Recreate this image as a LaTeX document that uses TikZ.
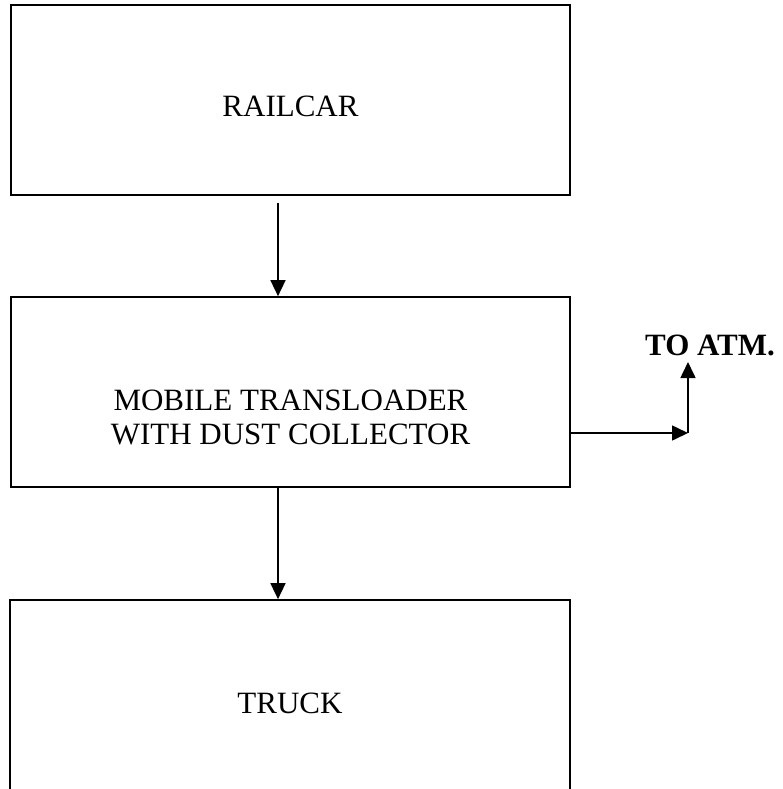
\documentclass[tikz,border=0pt]{standalone}
\usepackage{fontspec}
\setmainfont{Liberation Serif}
\usetikzlibrary{arrows.meta}
\begin{document}
\begin{tikzpicture}[x=1pt,y=-1pt,
  box/.style={draw=black,line width=1.7pt,minimum width=559pt,inner sep=0pt},
  txt/.style={font=\fontsize{31}{34}\selectfont,align=center,inner sep=0pt},
  arr/.style={line width=1.6pt,-{Triangle[length=16pt,width=15pt]}}]
\useasboundingbox (0,0) rectangle (783,789);
\node[box,minimum height=190pt] (rail) at (290.5,100) {};
\node[txt] (railt) at (290.5,106) {RAILCAR};
\node[box,minimum height=190pt] (mid) at (290.5,392) {};
\node[txt] (midt) at (290.5,417) {MOBILE TRANSLOADER\\WITH DUST COLLECTOR};
\node[box,minimum height=206pt,minimum width=560pt] (truck) at (290,703) {};
\node[txt] (truckt) at (290,703) {TRUCK};
\draw[arr] ([xshift=-12.5pt,yshift=-7pt]rail.south) -- ([xshift=-12.5pt]mid.north);
\draw[arr] ([xshift=-12.5pt]mid.south) -- ([xshift=-12pt]truck.north);
\coordinate (corner) at (688,433);
\coordinate (up) at (688,362);
\draw[arr] (mid.east |- corner) -- (corner);
\draw[arr] (corner) -- (up);
\node[txt,font=\fontsize{31}{34}\selectfont\bfseries] (atm) at (710,345) {TO ATM.};
\end{tikzpicture}
\end{document}
